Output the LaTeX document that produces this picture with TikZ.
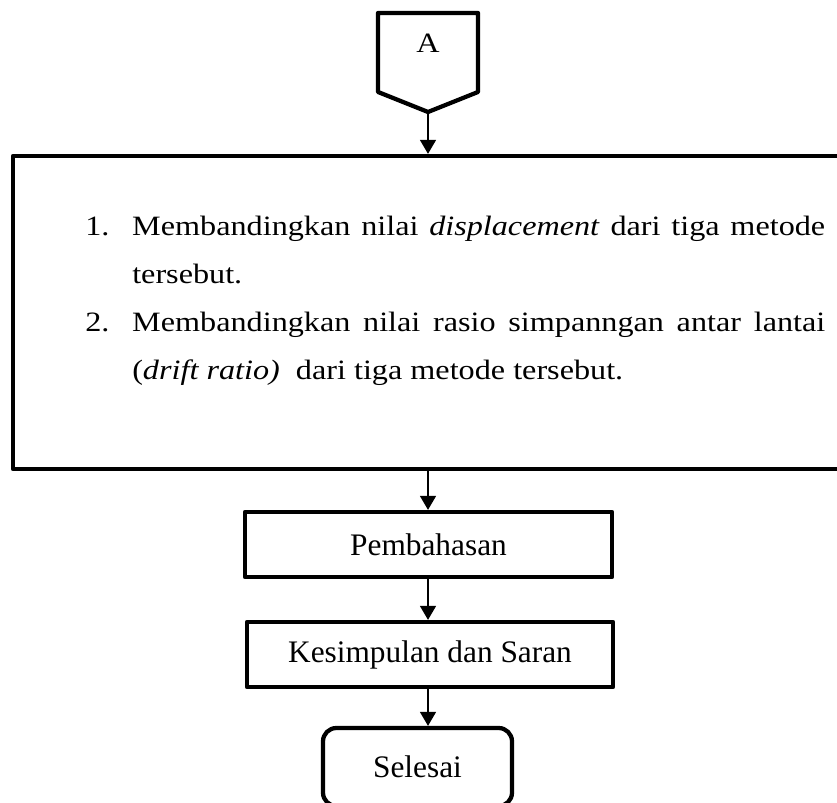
\documentclass[tikz,border=0pt]{standalone}
\usepackage{fontspec}
\setmainfont{Liberation Serif}
\newfontfamily\wideFont[FakeStretch=1.15]{Liberation Serif}
\usetikzlibrary{arrows.meta}

\newcommand{\fcFont}{\fontsize{23.5}{36}\selectfont}
\newcommand{\listFont}{\wideFont\fontsize{21}{36}\selectfont}

\begin{document}
\begin{tikzpicture}[x=0.75pt, y=-0.75pt, line cap=round, line join=round]

% ---------------- styles ----------------
\tikzset{
  fcBorder/.style ={draw, line width=3.2pt},
  fcBox/.style    ={fcBorder, inner sep=0pt, font=\fcFont},
  fcEnd/.style    ={fcBox, rounded corners=10pt},
  fcText/.style   ={inner sep=0pt, font=\listFont},
  fcArrow/.style  ={line width=1.1pt, -{Triangle[width=12pt, length=10.5pt]}}
}

% ---------------- parameters ----------------
\def\Px{0.75pt}   % one pixel of the reference
\def\Hang{35.25pt}% room for the item number

% page frame
\useasboundingbox (0,0) rectangle (837,802);
\clip (0,0) rectangle (837,802);

% ---------------- off-page connector A ----------------
\path[fcBorder] (378,13) -- (478,13) -- (478,92) -- (428,112) -- (378,92) -- cycle;
\node[fcText, anchor=base] (konA) at (428,53) {A};
\coordinate (ujungA) at (428,112);

% ---------------- analysis steps ----------------
\node[fcBox, minimum width=867*\Px, minimum height=313*\Px] (langkah) at (446.5,312.5) {};
\node[fcText, anchor=north west, text width=555pt, align=justify] (daftar) at (85,216) {%
  \parindent=0pt
  \hangindent=\Hang\hangafter=1\makebox[\Hang][l]{1.}Membandingkan nilai \textit{displacement} dari tiga metode\linebreak tersebut.\par
  \hangindent=\Hang\hangafter=1\makebox[\Hang][l]{2.}Membandingkan nilai rasio simpanngan antar lantai\linebreak (\textit{drift ratio)}\ \ dari tiga metode tersebut.\par};

% ---------------- closing steps ----------------
\node[fcBox, minimum width=367*\Px, minimum height=65*\Px] (bahas)   at (428.5,544.5) {Pembahasan};
\node[fcBox, minimum width=366*\Px, minimum height=65*\Px] (simpul)  at (430,654.5)   {Kesimpulan dan Saran};
\node[fcEnd, minimum width=189*\Px, minimum height=78*\Px] (selesai) at (417.5,767)   {Selesai};

% ---------------- connectors ----------------
\draw[fcArrow] (ujungA) -- (ujungA |- langkah.north);
\draw[fcArrow] (ujungA |- langkah.south) -- (ujungA |- bahas.north);
\draw[fcArrow] (ujungA |- bahas.south) -- (ujungA |- simpul.north);
\draw[fcArrow] (ujungA |- simpul.south) -- (ujungA |- selesai.north);

\end{tikzpicture}
\end{document}
